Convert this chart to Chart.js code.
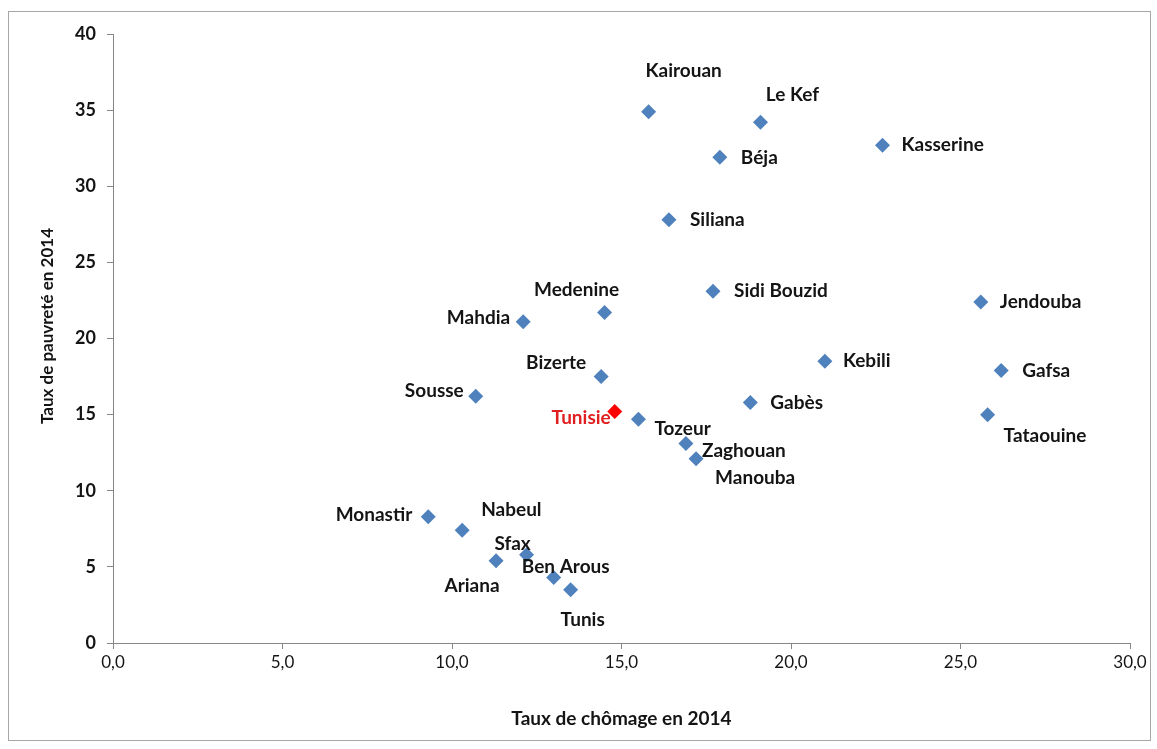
<!DOCTYPE html>
<html lang="fr">
<head>
<meta charset="utf-8">
<title>Taux de pauvreté et taux de chômage par gouvernorat, 2014</title>
<script src="https://cdn.jsdelivr.net/npm/chart.js@4/dist/chart.umd.min.js"></script>
<style>
  html, body { margin: 0; padding: 0; background: #ffffff; }
  #wrap { position: relative; width: 1157px; height: 749px; }
</style>
</head>
<body>
<div id="wrap"><canvas id="chart" width="1157" height="749"></canvas></div>
<script>
// Gouvernorats (et moyenne nationale "Tunisie")
const gouvernorats = [
  'Kairouan', 'Le Kef', 'Béja', 'Kasserine', 'Siliana', 'Sidi Bouzid',
  'Jendouba', 'Medenine', 'Mahdia', 'Kebili', 'Gafsa', 'Bizerte',
  'Sousse', 'Gabès', 'Tunisie', 'Tozeur', 'Tataouine', 'Zaghouan',
  'Manouba', 'Monastir', 'Nabeul', 'Sfax', 'Ariana', 'Ben Arous', 'Tunis'
];
// Taux de chômage en 2014 (%)
const tauxChomage = [
  15.8, 19.1, 17.9, 22.7, 16.4, 17.7,
  25.6, 14.5, 12.1, 21.0, 26.2, 14.4,
  10.7, 18.8, 14.8, 15.5, 25.8, 16.9,
  17.2, 9.3, 10.3, 12.2, 11.3, 13.0, 13.5
];
// Taux de pauvreté en 2014 (%)
const tauxPauvrete = [
  34.9, 34.2, 31.9, 32.7, 27.8, 23.1,
  22.4, 21.7, 21.1, 18.5, 17.9, 17.5,
  16.2, 15.8, 15.2, 14.7, 15.0, 13.1,
  12.1, 8.3, 7.4, 5.8, 5.4, 4.3, 3.5
];
// Graduations des axes
const xTicks = [0, 5, 10, 15, 20, 25, 30];
const yTicks = [0, 5, 10, 15, 20, 25, 30, 35, 40];
// Titres des axes
const xTitle = 'Taux de chômage en 2014';
const yTitle = 'Taux de pauvreté en 2014';

const NATIONAL = 'Tunisie';
const BLUE = '#4F81BD';
const RED = '#FF0000';
const AXIS = '#868686';
const INK = '#141414';
const FONT = 'Lato, "Open Sans", sans-serif';

// Placement de chaque étiquette autour de son point : [décalage x, décalage y, alignement]
const labelPlacement = {
  'Kairouan':    [35, -41, 'center'],
  'Le Kef':      [32, -27, 'center'],
  'Béja':        [21, 1, 'left'],
  'Kasserine':   [19, 0, 'left'],
  'Siliana':     [21, 0, 'left'],
  'Sidi Bouzid': [21, 0, 'left'],
  'Jendouba':    [19, 0, 'left'],
  'Medenine':    [-28, -23, 'center'],
  'Mahdia':      [-13, -4, 'right'],
  'Kebili':      [18, 0, 'left'],
  'Gafsa':       [21, 0, 'left'],
  'Bizerte':     [-45, -14, 'center'],
  'Sousse':      [-12, -5, 'right'],
  'Gabès':       [20, 0, 'left'],
  'Tunisie':     [-4, 6, 'right'],
  'Tozeur':      [16, 10, 'left'],
  'Tataouine':   [16, 21, 'left'],
  'Zaghouan':    [16, 7, 'left'],
  'Manouba':     [19, 19, 'left'],
  'Monastir':    [-16, -2, 'right'],
  'Nabeul':      [19, -20, 'left'],
  'Sfax':        [-14, -11, 'center'],
  'Ariana':      [-24, 25, 'center'],
  'Ben Arous':   [12, -11, 'center'],
  'Tunis':       [12, 30, 'center']
};

const points = gouvernorats.map((g, i) => ({ x: tauxChomage[i], y: tauxPauvrete[i] }));
const colors = gouvernorats.map(g => (g === NATIONAL ? RED : BLUE));

// Fond blanc, cadre gris et titre vertical de l'axe des ordonnées
const framePlugin = {
  id: 'frame',
  beforeDraw(chart) {
    const ctx = chart.ctx;
    ctx.save();
    ctx.fillStyle = '#ffffff';
    ctx.fillRect(0, 0, chart.width, chart.height);
    ctx.strokeStyle = '#a6a6a6';
    ctx.lineWidth = 1;
    ctx.strokeRect(8.5, 11.5, 1142, 729);
    ctx.restore();
  },
  afterDraw(chart) {
    const ctx = chart.ctx;
    ctx.save();
    ctx.translate(48, 326);
    ctx.rotate(-Math.PI / 2);
    ctx.font = 'bold 17px ' + FONT;
    ctx.fillStyle = INK;
    ctx.textAlign = 'center';
    ctx.textBaseline = 'middle';
    ctx.fillText(yTitle, 0, 0);
    ctx.restore();
  }
};

// Noms des gouvernorats à côté des points
const pointLabels = {
  id: 'pointLabels',
  afterDatasetsDraw(chart) {
    const ctx = chart.ctx;
    const meta = chart.getDatasetMeta(0);
    ctx.save();
    ctx.font = 'bold 19px ' + FONT;
    ctx.textBaseline = 'middle';
    meta.data.forEach((el, i) => {
      const name = gouvernorats[i];
      const [dx, dy, align] = labelPlacement[name] || [14, 0, 'left'];
      ctx.fillStyle = name === NATIONAL ? '#E02020' : INK;
      ctx.textAlign = align;
      ctx.fillText(name, el.x + dx, el.y + dy);
    });
    ctx.restore();
  }
};

new Chart(document.getElementById('chart'), {
  type: 'scatter',
  data: {
    datasets: [{
      label: 'Gouvernorats',
      data: points,
      pointStyle: 'rectRot',
      pointRadius: 7.5,
      pointHoverRadius: 7.5,
      pointBackgroundColor: colors,
      pointBorderColor: colors,
      pointBorderWidth: 0
    }]
  },
  options: {
    responsive: false,
    animation: false,
    events: [],
    layout: { padding: { top: 34, right: 27, bottom: 0, left: 0 } },
    plugins: {
      legend: { display: false },
      tooltip: { enabled: false }
    },
    scales: {
      x: {
        type: 'linear',
        min: 0,
        max: 30,
        afterBuildTicks(scale) { scale.ticks = xTicks.map(v => ({ value: v })); },
        afterFit(scale) { scale.height = 106; },
        border: { display: true, color: AXIS, width: 1 },
        grid: { drawOnChartArea: false, drawTicks: true, tickLength: 6, color: AXIS },
        ticks: {
          padding: 3,
          color: INK,
          font: { family: FONT, size: 17 },
          callback: v => v.toFixed(1).replace('.', ',')
        },
        title: {
          display: true,
          text: xTitle,
          color: INK,
          font: { family: FONT, size: 19, weight: 'bold' },
          padding: { top: 0, bottom: 19 }
        }
      },
      y: {
        type: 'linear',
        min: 0,
        max: 40,
        afterBuildTicks(scale) { scale.ticks = yTicks.map(v => ({ value: v })); },
        afterFit(scale) { scale.width = 113; },
        border: { display: true, color: AXIS, width: 1 },
        grid: { drawOnChartArea: false, drawTicks: true, tickLength: 6, color: AXIS },
        ticks: {
          padding: 11,
          color: INK,
          font: { family: FONT, size: 18, weight: 'bold' },
          callback: v => String(v)
        },
        title: { display: false }
      }
    }
  },
  plugins: [framePlugin, pointLabels]
});
</script>
</body>
</html>
